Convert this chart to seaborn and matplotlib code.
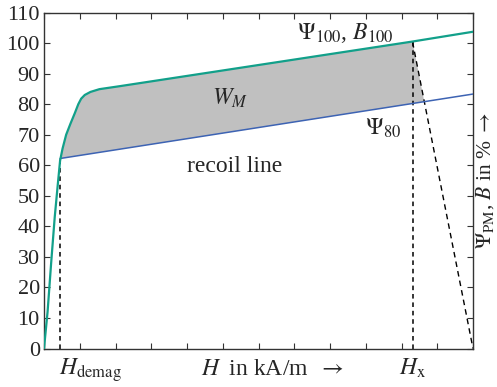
import numpy as np
import pandas as pd
import matplotlib
matplotlib.use("Agg")
import matplotlib.pyplot as plt
import matplotlib.transforms as mtransforms
import seaborn as sns

# ---- data ----
h_demag = 0.45
h_x = 10.31
x_max = 12.0

# demagnetisation curve (teal)
curve_h = [0.0, 0.1, 0.2, 0.3, 0.38, 0.45, 0.52, 0.62, 0.74, 0.86, 0.96, 1.04, 1.14, 1.3, 1.55, 2.13, 10.31, 12.0]
curve_b = [0.0, 12.0, 28.0, 43.0, 53.0, 61.5, 65.5, 70.0, 73.6, 77.0, 80.0, 81.8, 83.0, 84.0, 84.9, 85.9, 100.5, 103.7]

# recoil line (blue)
recoil_h = [0.45, 12.0]
recoil_b = [62.2, 83.3]

# load line (dashed) from (H_x, 100) to (12, 0)
load_h = [10.31, 12.0]
load_b = [100.3, 0.0]

y_ticks = [0, 10, 20, 30, 40, 50, 60, 70, 80, 90, 100, 110]
x_ticks = list(range(0, 13))

teal = "#12a08a"
blue = "#3d63b3"

sns.set_theme(style="ticks")
plt.rcParams["font.family"] = ["Liberation Serif", "DejaVu Serif"]
plt.rcParams["mathtext.fontset"] = "stix"

fig = plt.figure(figsize=(4.97, 3.87), dpi=100)
ax = fig.add_axes([44 / 497, 1 - 348.5 / 387, 429 / 497, 336 / 387])

df_curve = pd.DataFrame({"H": curve_h, "B": curve_b})
df_recoil = pd.DataFrame({"H": recoil_h, "B": recoil_b})

# fill region W_M
hh = np.linspace(h_demag, h_x, 300)
top = np.interp(hh, curve_h, curve_b)
slope_r = (recoil_b[1] - recoil_b[0]) / (recoil_h[1] - recoil_h[0])
slope_l = (load_b[1] - load_b[0]) / (load_h[1] - load_h[0])
hi = (recoil_b[0] - slope_r * recoil_h[0] - load_b[0] + slope_l * load_h[0]) / (slope_l - slope_r)
bi = recoil_b[0] + slope_r * (hi - recoil_h[0])
poly_x = list(hh) + [load_h[0], hi, recoil_h[0]]
poly_y = list(top) + [load_b[0], bi, recoil_b[0]]
ax.fill(poly_x, poly_y, color="#c0c0c0", lw=0, zorder=1)

sns.lineplot(data=df_recoil, x="H", y="B", color=blue, lw=1.1, ax=ax, zorder=3)
sns.lineplot(data=df_curve, x="H", y="B", color=teal, lw=1.6, ax=ax, zorder=4, sort=False)

# dashed helper lines
ax.plot([h_demag, h_demag], [0, recoil_b[0]], ls=(0, (3, 2.5)), color="black", lw=1.1, zorder=2)
ax.plot([h_x, h_x], [0, load_b[0]], ls=(0, (3, 2.5)), color="black", lw=1.1, zorder=2)
ax.plot(load_h, load_b, ls=(0, (4, 3)), color="black", lw=1.0, zorder=2)

ax.set_xlim(0, x_max)
ax.set_ylim(0, 110)
ax.set_xticks(x_ticks)
ax.set_xticklabels([])
ax.set_yticks(y_ticks)
ax.tick_params(direction="in", length=4, width=0.8, color="#333333",
               top=True, right=True, labelsize=16, pad=3)
for s in ax.spines.values():
    s.set_color("#333333")
    s.set_linewidth(1.0)
ax.set_xlabel("")
ax.set_ylabel(r"$\Psi_{\mathrm{PM}}$, $B$ in % $\rightarrow$", fontsize=15.5)
ax.yaxis.set_label_position("right")
ax.yaxis.set_label_coords(1.003, 0.5)

trans = mtransforms.blended_transform_factory(ax.transData, ax.transAxes)
yb = -(375 - 348.5) / 336
ax.text(1.29, yb, r"$H_{\mathrm{demag}}$", transform=trans, ha="center", va="baseline", fontsize=17)
ax.text(6.38, yb, r"$H\;$ in kA/m $\;\rightarrow$", transform=trans, ha="center", va="baseline", fontsize=17)
ax.text(h_x, yb, r"$H_{\mathrm{x}}$", transform=trans, ha="center", va="baseline", fontsize=17)

ax.text(8.42, 103.3, r"$\Psi_{100}$, $B_{100}$", ha="center", va="center", fontsize=17)
ax.text(5.2, 82.0, r"$W_M$", ha="center", va="center", fontsize=17)
ax.text(9.48, 72.2, r"$\Psi_{80}$", ha="center", va="center", fontsize=17)
ax.text(5.34, 59.7, "recoil line", ha="center", va="center", fontsize=17)

fig.savefig("out.png", dpi=100)
